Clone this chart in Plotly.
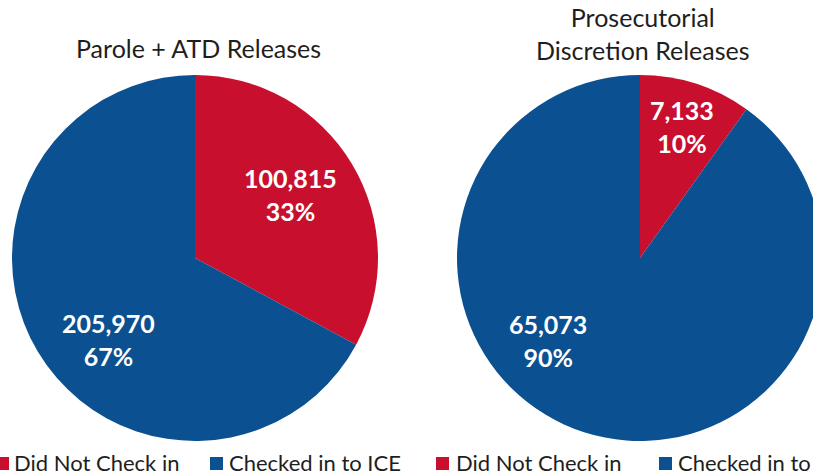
import plotly.graph_objects as go

# The figure is a bit wider than the 813px window so that the right pie is
# cropped at the window edge, as in the reference.
FW, FH = 830, 476

categories = ["Did Not Check in", "Checked in to ICE"]
parole_values = [100815, 205970]
pd_values = [7133, 65073]
titles = ["Parole + ATD Releases", "Prosecutorial<br>Discretion Releases"]
colors = ["#C8102E", "#0B5090"]

def px(x):
    return x / FW

def py(y):
    return 1 - y / FH

def labels_text(vals):
    tot = sum(vals)
    return [f"{v:,}<br>{round(100 * v / tot):.0f}%" for v in vals]

R = 183
pies = [
    dict(vals=parole_values, cx=195, cy=258, title=titles[0], ty=48,
         lab_pos=[(290, 194), (108, 339)]),
    dict(vals=pd_values, cx=640, cy=258, title=titles[1], ty=34,
         lab_pos=[(682, 127), (548, 340)]),
]

TXT = "Lato, sans-serif"
fig = go.Figure()
for p in pies:
    fig.add_trace(go.Pie(
        labels=categories, values=p["vals"], sort=False, direction="clockwise",
        rotation=0, marker=dict(colors=colors, line=dict(width=0)),
        textinfo="none", showlegend=False, hoverinfo="label+value+percent",
        domain=dict(x=[px(p["cx"] - R), px(p["cx"] + R)],
                    y=[py(p["cy"] + R), py(p["cy"] - R)]),
    ))
    for t, (lx, ly) in zip(labels_text(p["vals"]), p["lab_pos"]):
        fig.add_annotation(text=t, x=px(lx), y=py(ly), xref="paper", yref="paper",
                           showarrow=False, xanchor="center", yanchor="middle",
                           font=dict(family="Lato", size=25, color="white", weight="bold"))
    fig.add_annotation(text=p["title"], x=px(p["cx"] + 3), y=py(p["ty"]),
                       xref="paper", yref="paper", showarrow=False,
                       xanchor="center", yanchor="middle",
                       font=dict(family=TXT, size=25, color="#1e1e1e"))

# legend row (two entries per pie)
sq_x = [-4, 210, 436, 659]
txt_x = [12, 227, 454, 676]
for i in range(4):
    c = i % 2
    fig.add_shape(type="rect", xref="paper", yref="paper",
                  x0=px(sq_x[i]), x1=px(sq_x[i] + 13), y0=py(470), y1=py(457),
                  fillcolor=colors[c], line=dict(width=0))
    fig.add_annotation(text=categories[c], x=px(txt_x[i]), y=py(462.5),
                       xref="paper", yref="paper", showarrow=False,
                       xanchor="left", yanchor="middle",
                       font=dict(family=TXT, size=22, color="#1e1e1e"))

fig.update_layout(width=FW, height=FH, margin=dict(l=0, r=0, t=0, b=0),
                  paper_bgcolor="white", plot_bgcolor="white")
fig.write_html("out.html", config={"displayModeBar": False},
               post_script="document.body.style.margin='0px';"
                           "document.body.style.overflow='hidden';")
